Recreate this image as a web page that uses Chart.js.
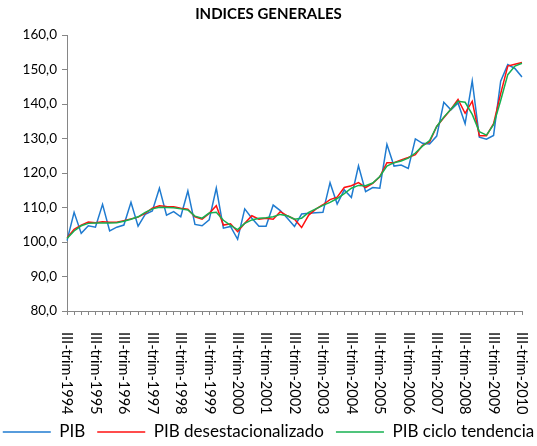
<!DOCTYPE html>
<html>
<head>
<meta charset="utf-8">
<script src="https://cdn.jsdelivr.net/npm/chart.js@4/dist/chart.umd.min.js"></script>
<style>
  html, body { margin: 0; padding: 0; background: #ffffff; }
  #wrap { width: 537px; height: 446px; }
</style>
</head>
<body>
<div id="wrap"><canvas id="c" width="537" height="446"></canvas></div>
<script>
const categories = [
  "III-trim-1994","IV-trim-1994",
  "I-trim-1995","II-trim-1995","III-trim-1995","IV-trim-1995",
  "I-trim-1996","II-trim-1996","III-trim-1996","IV-trim-1996",
  "I-trim-1997","II-trim-1997","III-trim-1997","IV-trim-1997",
  "I-trim-1998","II-trim-1998","III-trim-1998","IV-trim-1998",
  "I-trim-1999","II-trim-1999","III-trim-1999","IV-trim-1999",
  "I-trim-2000","II-trim-2000","III-trim-2000","IV-trim-2000",
  "I-trim-2001","II-trim-2001","III-trim-2001","IV-trim-2001",
  "I-trim-2002","II-trim-2002","III-trim-2002","IV-trim-2002",
  "I-trim-2003","II-trim-2003","III-trim-2003","IV-trim-2003",
  "I-trim-2004","II-trim-2004","III-trim-2004","IV-trim-2004",
  "I-trim-2005","II-trim-2005","III-trim-2005","IV-trim-2005",
  "I-trim-2006","II-trim-2006","III-trim-2006","IV-trim-2006",
  "I-trim-2007","II-trim-2007","III-trim-2007","IV-trim-2007",
  "I-trim-2008","II-trim-2008","III-trim-2008","IV-trim-2008",
  "I-trim-2009","II-trim-2009","III-trim-2009","IV-trim-2009",
  "I-trim-2010","II-trim-2010","III-trim-2010"
];

const pib = [
  100.4,108.6,102.5,104.7,104.3,110.9,103.2,104.3,104.9,111.5,
  104.6,108.0,109.0,115.6,107.8,108.8,107.3,114.8,105.1,104.7,
  106.4,115.6,104.0,104.5,100.8,109.6,106.9,104.6,104.6,110.7,
  109.1,106.9,104.5,108.1,108.3,108.5,108.6,117.2,111.0,115.1,
  112.9,122.1,114.6,115.8,115.6,128.3,122.0,122.3,121.3,129.9,
  128.6,128.4,130.7,140.5,138.3,140.3,134.3,146.7,130.4,129.8,
  130.9,146.6,151.4,150.3,147.8
];

const pibDesest = [
  101.2,103.7,104.9,105.8,105.6,105.9,105.7,105.7,106.2,106.7,
  107.2,108.3,109.8,110.5,110.3,110.2,109.8,109.5,107.3,106.6,
  108.3,110.5,104.9,105.3,103.0,105.4,107.6,106.6,106.9,106.6,
  108.8,107.6,106.6,104.2,107.8,109.5,110.8,112.3,113.0,115.8,
  116.3,117.2,115.8,117.0,118.9,123.0,123.0,123.8,124.5,125.3,
  128.0,129.0,133.5,136.0,138.5,141.3,137.3,140.8,130.8,130.8,
  134.3,143.0,151.0,151.5,152.0
];

const pibCiclo = [
  101.0,103.2,104.7,105.4,105.5,105.5,105.5,105.6,106.0,106.6,
  107.3,108.6,109.6,110.1,110.0,109.9,109.6,109.3,107.5,106.9,
  108.4,108.6,106.3,104.8,103.6,105.4,106.4,106.9,107.0,107.3,
  108.0,107.6,106.6,106.9,108.6,109.6,110.6,111.5,112.6,114.0,
  115.6,116.4,116.3,117.1,119.0,122.0,123.0,123.5,124.3,125.8,
  127.8,129.4,133.5,136.2,138.5,140.8,140.5,137.0,132.0,131.0,
  134.0,141.0,148.5,151.0,151.8
];

const yTicks = [80, 90, 100, 110, 120, 130, 140, 150, 160];
const labelEvery = 4;

const FONT = "Lato, 'Open Sans', sans-serif";
const AXIS_COLOR = "#868686";

const xLabelsPlugin = {
  id: "xLabelsRotated",
  afterDraw(chart) {
    const xs = chart.scales.x;
    const ctx = chart.ctx;
    ctx.save();
    ctx.font = "14.5px " + FONT;
    ctx.fillStyle = "#000000";
    ctx.textAlign = "left";
    ctx.textBaseline = "middle";
    const y0 = chart.chartArea.bottom + 21;
    for (let i = 0; i < categories.length; i += labelEvery) {
      const x = xs.getPixelForValue(i);
      ctx.save();
      ctx.translate(x, y0);
      ctx.rotate(Math.PI / 2);
      ctx.fillText(categories[i], 0, 0);
      ctx.restore();
    }
    ctx.restore();
  }
};

new Chart(document.getElementById("c"), {
  type: "line",
  data: {
    labels: categories,
    datasets: [
      { label: "PIB", data: pib, borderColor: "#1F7BD0", backgroundColor: "#1F7BD0",
        borderWidth: 1.5, pointRadius: 0, tension: 0, order: 3, yAxisID: "y" },
      { label: "PIB desestacionalizado", data: pibDesest, borderColor: "#FF1010", backgroundColor: "#FF1010",
        borderWidth: 1.5, pointRadius: 0, tension: 0, order: 2, yAxisID: "y" },
      { label: "PIB ciclo tendencia", data: pibCiclo, borderColor: "#16B050", backgroundColor: "#16B050",
        borderWidth: 1.5, pointRadius: 0, tension: 0, order: 1, yAxisID: "y" }
    ]
  },
  options: {
    responsive: false,
    animation: false,
    events: [],
    layout: { padding: { left: -20, right: -20, top: 0, bottom: -4.5 } },
    plugins: {
      title: {
        display: true,
        text: "INDICES GENERALES",
        color: "#000000",
        font: { family: FONT, size: 15, weight: "bold" },
        padding: { top: 5, bottom: 12 }
      },
      legend: {
        display: true,
        position: "bottom",
        align: "center",
        labels: {
          boxWidth: 48,
          boxHeight: 1.5,
          padding: 12,
          color: "#000000",
          font: { family: FONT, size: 17 },
          sort: (a, b) => a.datasetIndex - b.datasetIndex,
          generateLabels(chart) {
            const items = Chart.defaults.plugins.legend.labels.generateLabels(chart);
            items.forEach(it => { it.lineWidth = 0; it.fillStyle = it.strokeStyle; });
            return items;
          }
        }
      },
      tooltip: { enabled: false }
    },
    scales: {
      x: {
        type: "category",
        offset: false,
        afterFit(scale) { scale.height = 100.5; },
        grid: { display: true, drawOnChartArea: false, drawTicks: true, tickLength: 4, color: AXIS_COLOR, offset: false },
        border: { display: true, color: AXIS_COLOR, width: 1 },
        ticks: { display: false, autoSkip: false }
      },
      y: {
        position: "left",
        min: 80,
        max: 160,
        afterFit(scale) { scale.width = 87; },
        afterBuildTicks(scale) { scale.ticks = yTicks.map(v => ({ value: v })); },
        grid: { display: true, drawOnChartArea: false, drawTicks: true, tickLength: 5, color: AXIS_COLOR },
        border: { display: true, color: AXIS_COLOR, width: 1 },
        ticks: {
          padding: 5,
          color: "#000000",
          font: { family: FONT, size: 13.5 },
          callback: (v) => Number(v).toFixed(1).replace(".", ",")
        }
      },
      yPad: {
        position: "right",
        display: true,
        afterFit(scale) { scale.width = 35; },
        grid: { display: false },
        border: { display: false },
        ticks: { display: false }
      }
    }
  },
  plugins: [xLabelsPlugin]
});
</script>
</body>
</html>
